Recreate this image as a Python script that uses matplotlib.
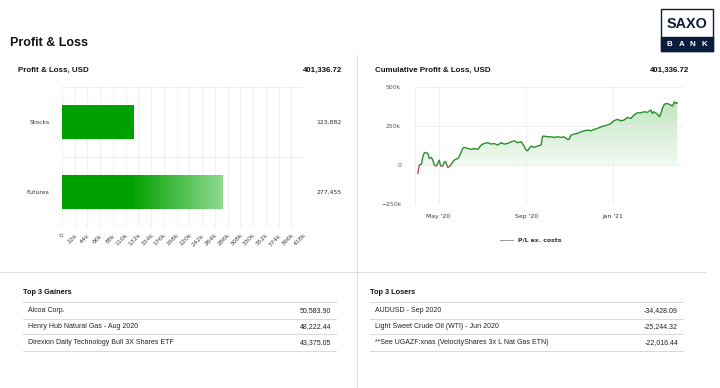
import numpy as np
import pandas as pd
import matplotlib
matplotlib.use("Agg")
import matplotlib.pyplot as plt
import matplotlib.dates as mdates
from matplotlib.lines import Line2D
from matplotlib.patches import Rectangle

# ---- data ----
total_pl = "401,336.72"

bar_labels = ["Stocks", "Futures"]
bar_values = [123882, 277455]
bar_value_text = ["123,882", "277,455"]
bar_ticks = list(range(0, 418001, 22000))

pl_dates = ["2020-04-02", "2020-04-04", "2020-04-07", "2020-04-09", "2020-04-11", "2020-04-14",
            "2020-04-16", "2020-04-18", "2020-04-21", "2020-04-23", "2020-04-25", "2020-04-28",
            "2020-04-30", "2020-05-02", "2020-05-04", "2020-05-07", "2020-05-09", "2020-05-11",
            "2020-05-14", "2020-05-16", "2020-05-18", "2020-05-21", "2020-05-23", "2020-05-28",
            "2020-05-30", "2020-06-01", "2020-06-04", "2020-06-06", "2020-06-11", "2020-06-16",
            "2020-06-20", "2020-06-25", "2020-06-30", "2020-07-04", "2020-07-09", "2020-07-14",
            "2020-07-18", "2020-07-23", "2020-07-28", "2020-08-01", "2020-08-06", "2020-08-11",
            "2020-08-15", "2020-08-20", "2020-08-25", "2020-08-29", "2020-09-01", "2020-09-03",
            "2020-09-05", "2020-09-08", "2020-09-12", "2020-09-17", "2020-09-22", "2020-09-24",
            "2020-09-26", "2020-10-01", "2020-10-06", "2020-10-10", "2020-10-15", "2020-10-20",
            "2020-10-24", "2020-10-29", "2020-10-31", "2020-11-03", "2020-11-07", "2020-11-12",
            "2020-11-17", "2020-11-21", "2020-11-26", "2020-12-01", "2020-12-05", "2020-12-10",
            "2020-12-15", "2020-12-19", "2020-12-24", "2020-12-29", "2021-01-02", "2021-01-07",
            "2021-01-12", "2021-01-16", "2021-01-21", "2021-01-26", "2021-01-30", "2021-02-04",
            "2021-02-09", "2021-02-13", "2021-02-18", "2021-02-23", "2021-02-25", "2021-02-27",
            "2021-03-04", "2021-03-07", "2021-03-09", "2021-03-11", "2021-03-14", "2021-03-18",
            "2021-03-23", "2021-03-25", "2021-03-28", "2021-03-30", "2021-04-01"]
# cumulative P/L in thousands USD
pl_values_k = [-53, 0, 6, 54, 79, 79, 75, 43, 49, 32, 0, -6,
               11, 32, -6, -6, 21, 21, -15, -11, 0, 21, 32, 43,
               54, 75, 107, 114, 107, 101, 107, 101, 129, 139, 144, 135,
               139, 129, 144, 135, 139, 150, 156, 144, 150, 122, 96, 92,
               107, 122, 114, 122, 129, 186, 186, 182, 182, 178, 182, 178,
               182, 165, 165, 193, 199, 204, 214, 219, 225, 221, 229, 236,
               246, 251, 257, 268, 285, 294, 285, 289, 306, 300, 321, 336,
               336, 343, 339, 354, 332, 343, 328, 311, 332, 364, 392, 396,
               386, 379, 407, 396, 401.3]
line_ticks = ["2020-05-01", "2020-09-01", "2021-01-01"]
line_tick_labels = ["May '20", "Sep '20", "Jan '21"]
y_ticks_k = [-250, 0, 250, 500]
y_tick_labels = ["\u2212250k", "0", "250k", "500k"]

gainers = ["Alcoa Corp.", "Henry Hub Natural Gas - Aug 2020",
           "Direxion Daily Technology Bull 3X Shares ETF"]
gainers_pl = ["50,583.90", "48,222.44", "43,375.05"]
losers = ["AUDUSD - Sep 2020", "Light Sweet Crude Oil (WTI) - Jun 2020",
          "**See UGAZF:xnas (VelocityShares 3x L Nat Gas ETN)"]
losers_pl = ["-34,428.09", "-25,244.32", "-22,016.44"]

plt.rcParams['font.family'] = ['Liberation Sans', 'DejaVu Sans']
W, H = 720, 388


def fx(x):
    return x / W


def fy(y):
    return 1 - y / H


def hline(x0, x1, y, color="#d9d9d9", lw=0.7):
    fig.add_artist(Line2D([fx(x0), fx(x1)], [fy(y), fy(y)], transform=fig.transFigure,
                          color=color, lw=lw))


fig = plt.figure(figsize=(7.2, 3.88), dpi=100)
fig.patch.set_facecolor("white")

# header
fig.text(fx(10), fy(42.5), "Profit & Loss", fontsize=9, fontweight="bold", color="#111", va="center")

# logo
navy = "#0b1b3c"
fig.add_artist(Rectangle((fx(661), fy(50.7)), 51.7 / W, 41.4 / H, transform=fig.transFigure,
                         facecolor="white", edgecolor=navy, lw=1.0))
fig.add_artist(Rectangle((fx(661), fy(50.7)), 51.7 / W, 13.4 / H, transform=fig.transFigure,
                         facecolor=navy, edgecolor=navy, lw=1.0))
fig.text(fx(687), fy(23.5), "SAXO", fontsize=10.4, fontweight="bold", color=navy,
         ha="center", va="center")
for xp, ch in zip([669.5, 681.2, 692.8, 704.3], "BANK"):
    fig.text(fx(xp), fy(44), ch, fontsize=5.8, fontweight="bold", color="white",
             ha="center", va="center")

# panel separators
fig.add_artist(Line2D([fx(357.3), fx(357.3)], [fy(55), fy(388)], transform=fig.transFigure,
                      color="#dddddd", lw=0.7))
hline(0, 705, 272.3, color="#dddddd")

# panel titles
fig.text(fx(18), fy(70), "Profit & Loss, USD", fontsize=5.7, fontweight="bold", color="#111", va="center")
fig.text(fx(342), fy(70), total_pl, fontsize=5.7, fontweight="bold", color="#111", va="center", ha="right")
fig.text(fx(375), fy(70), "Cumulative Profit & Loss, USD", fontsize=5.7, fontweight="bold",
         color="#111", va="center")
fig.text(fx(689), fy(70), total_pl, fontsize=5.7, fontweight="bold", color="#111", va="center", ha="right")

# ---- horizontal bar chart ----
ax1 = fig.add_axes([fx(62), fy(227), 242 / W, 140 / H])
ypos = np.arange(len(bar_labels))
bars = ax1.barh(ypos, bar_values, height=0.48, color="#00a000", zorder=2)

# gradient on the futures bar
grad_x = np.linspace(0, bar_values[1], 256)
start = np.array([0.0, 0.63, 0.0])
end = np.array([0.56, 0.85, 0.56])
t = np.clip((grad_x - 118000) / (bar_values[1] - 118000), 0, 1)[:, None]
grad = (start * (1 - t) + end * t)[None, :, :]
im = ax1.imshow(grad, extent=[0, bar_values[1], ypos[1] + 0.24, ypos[1] - 0.24],
                aspect="auto", zorder=3)
im.set_clip_path(bars[1])

ax1.set_xlim(0, 418000)
ax1.set_ylim(1.5, -0.5)
ax1.set_xticks(bar_ticks)
ax1.set_xticklabels(["0"] + [f"{v // 1000}k" for v in bar_ticks[1:]], rotation=45,
                    ha="right", va="top", rotation_mode="anchor", fontsize=4.5,
                    color="#444", family="DejaVu Sans")
ax1.set_yticks(ypos)
ax1.set_yticklabels(bar_labels, fontsize=4.4, color="#333", family="DejaVu Sans")
ax1.set_yticks([-0.5, 0.5, 1.5], minor=True)
ax1.tick_params(axis="both", which="both", length=0)
ax1.tick_params(axis="y", pad=9)
ax1.tick_params(axis="x", pad=4)
ax1.grid(True, axis="x", color="#ececec", lw=0.6, zorder=0)
ax1.grid(True, axis="y", which="minor", color="#ececec", lw=0.6, zorder=0)
for s in ax1.spines.values():
    s.set_visible(False)
for yp, txt in zip(ypos, bar_value_text):
    ax1.text((342 - 62) / 242, yp, txt, transform=ax1.get_yaxis_transform(), ha="right",
             va="center", fontsize=4.4, color="#333", family="DejaVu Sans")

# ---- cumulative P/L line ----
ax2 = fig.add_axes([fx(415), fy(204), 268 / W, (204 - 87.3) / H])
x = mdates.date2num(pd.to_datetime(pl_dates))
y = np.array(pl_values_k)
x0 = mdates.date2num(pd.Timestamp("2020-03-29"))
x1 = mdates.date2num(pd.Timestamp("2021-04-09"))

area = ax2.fill_between(x, y, 0, color="none", lw=0)
alpha = np.linspace(0.32, 0.03, 256)
rgba = np.zeros((256, 1, 4))
rgba[:, 0, 0] = 0.2
rgba[:, 0, 1] = 0.68
rgba[:, 0, 2] = 0.2
rgba[:, 0, 3] = alpha
im2 = ax2.imshow(rgba, extent=[x0, x1, -60, 420], aspect="auto", zorder=1)
im2.set_clip_path(area.get_paths()[0], transform=ax2.transData)

green_line, = ax2.plot(x, y, color="#2a8f2a", lw=1.0, zorder=3)
red_line, = ax2.plot(x, y, color="#c0504d", lw=1.0, zorder=3)
green_line.set_clip_path(Rectangle((x0, 0), x1 - x0, 1000, transform=ax2.transData))
red_line.set_clip_path(Rectangle((x0, -1000), x1 - x0, 1000, transform=ax2.transData))

ax2.set_xlim(x0, x1)
ax2.set_ylim(-250, 500)
ax2.set_xticks(mdates.date2num(pd.to_datetime(line_ticks)))
ax2.set_xticklabels(line_tick_labels, fontsize=4.4, color="#333", family="DejaVu Sans")
ax2.set_yticks(y_ticks_k)
ax2.set_yticklabels(y_tick_labels, fontsize=4.4, color="#555", family="DejaVu Sans")
ax2.tick_params(axis="both", length=0)
ax2.tick_params(axis="y", pad=10)
ax2.tick_params(axis="x", pad=7.5)
ax2.grid(True, color="#ececec", lw=0.6, zorder=0)
for name, s in ax2.spines.items():
    s.set_visible(name == "left")
ax2.spines["left"].set_color("#ececec")
ax2.spines["left"].set_linewidth(0.6)

# legend
fig.add_artist(Line2D([fx(500), fx(513)], [fy(240), fy(240)], transform=fig.transFigure,
                      color="#999", lw=0.7))
fig.text(fx(518), fy(240), "P/L ex. costs", fontsize=4.4, fontweight="bold", color="#333",
         va="center", family="DejaVu Sans")

# ---- top 3 tables ----
row_y = [310.8, 327, 342.3]
row_lines = [302.3, 319.3, 334.3, 351]
tables = [(23, 336, "Top 3 Gainers", gainers, gainers_pl),
          (370, 683, "Top 3 Losers", losers, losers_pl)]
for left, right, title, names, vals in tables:
    fig.text(fx(left), fy(293), title, fontsize=5.3, fontweight="bold", color="#111", va="center")
    for ly in row_lines:
        hline(left, right, ly)
    for ry, name, val in zip(row_y, names, vals):
        fig.text(fx(left + 5), fy(ry), name, fontsize=5.0, color="#222", va="center")
        fig.text(fx(right - 5), fy(ry), val, fontsize=5.0, color="#222", va="center", ha="right")

fig.savefig("out.png", dpi=100)
